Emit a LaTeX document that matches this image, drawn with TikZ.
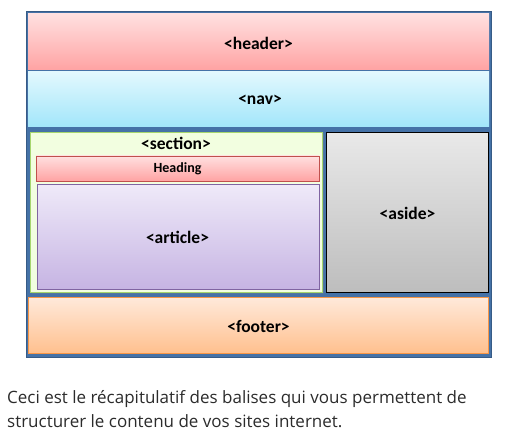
\documentclass[tikz,border=0pt]{standalone}
\usepackage{fontspec}
\setmainfont{Carlito}
\newfontfamily\captfont{Open Sans}
\usetikzlibrary{shadows}
\definecolor{frameblue}{HTML}{4572A7}
\definecolor{hdtop}{HTML}{FFE0E0}
\definecolor{hdbot}{HTML}{FFA3A3}
\definecolor{navtop}{HTML}{E2F8FE}
\definecolor{navbot}{HTML}{A2E6FA}
\definecolor{secfill}{HTML}{F2FEE0}
\definecolor{secdraw}{HTML}{A6D66E}
\definecolor{headdraw}{HTML}{C0504D}
\definecolor{arttop}{HTML}{EFEAF9}
\definecolor{artbot}{HTML}{C6B4E3}
\definecolor{artdraw}{HTML}{8064A2}
\definecolor{asidetop}{HTML}{E9E9E9}
\definecolor{asidebot}{HTML}{BDBDBD}
\definecolor{foottop}{HTML}{FFE9DA}
\definecolor{footbot}{HTML}{FFC08E}
\definecolor{footdraw}{HTML}{F79646}
\definecolor{capcol}{HTML}{2B2B2B}
\tikzset{
  lbl/.style={font=\fontsize{17.5}{21}\selectfont\bfseries, text=black},
  captxt/.style={anchor=base west, inner sep=0pt, text=capcol, font=\captfont\fontsize{17}{20}\selectfont},
}
\begin{document}
\begin{tikzpicture}[x=1pt,y=-1pt]
\useasboundingbox (0,0) rectangle (510,438);
% outer frame
\filldraw[fill=frameblue, draw=frameblue!80!black, line width=1pt] (26,12) rectangle (491,357);
% header
\shade[top color=hdtop, bottom color=hdbot] (28,14) rectangle (489,70);
\node[lbl] (header) at (258.5,43) {<header>};
% nav
\shade[top color=navtop, bottom color=navbot] (28,72) rectangle (489,127);
\node[lbl] (nav) at (260,100) {<nav>};
% section
\filldraw[fill=secfill, draw=secdraw, line width=1pt, drop shadow={opacity=0.3, shadow xshift=1pt, shadow yshift=-1pt}] (30.5,132.5) rectangle (322.5,292.5);
\node[lbl] (section) at (176,143) {<section>};
% heading
\shade[top color=hdtop, bottom color=hdbot, drop shadow={opacity=0.3, shadow xshift=1pt, shadow yshift=-1pt}] (36,156) rectangle (319,181);
\draw[headdraw, line width=0.8pt] (36,156) rectangle (319,181);
\node[font=\fontsize{14}{16}\selectfont\bfseries] (heading) at (177.5,168.5) {Heading};
% article
\shade[top color=arttop, bottom color=artbot] (37,184) rectangle (319,289);
\draw[artdraw, line width=0.8pt] (37,184) rectangle (319,289);
\node[lbl] (article) at (177.5,237) {<article>};
% aside
\shade[top color=asidetop, bottom color=asidebot] (326.5,132.5) rectangle (488.5,292.5);
\draw[black, line width=1pt] (326.5,132.5) rectangle (488.5,292.5);
\node[lbl] (aside) at (407.5,213) {<aside>};
% footer
\shade[top color=foottop, bottom color=footbot] (28.5,297.5) rectangle (488.5,353.5);
\draw[footdraw, line width=0.8pt] (28.5,297.5) rectangle (488.5,353.5);
\node[lbl] (footer) at (258.5,326) {<footer>};
% caption
\node[captxt] (cap1) at (7,403) {Ceci est le récapitulatif des balises qui vous permettent de};
\node[captxt] (cap2) at (7,427) {structurer le contenu de vos sites internet.};
\end{tikzpicture}
\end{document}
